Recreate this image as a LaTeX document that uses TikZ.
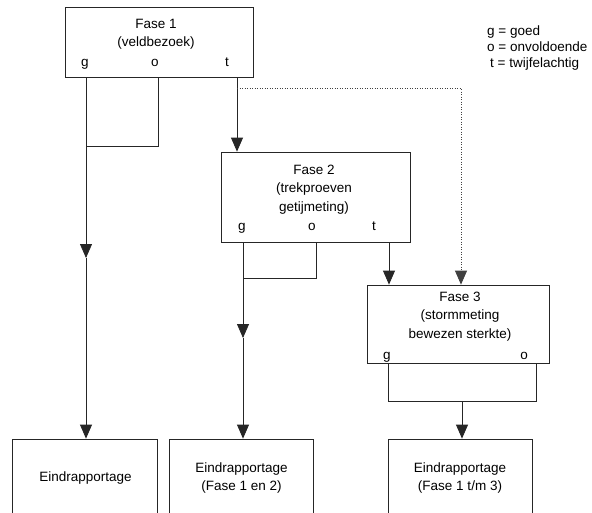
\documentclass[tikz,border=0pt]{standalone}
\usepackage{fontspec}
\setmainfont{Liberation Sans}
\usetikzlibrary{arrows.meta}
\begin{document}
\begin{tikzpicture}[x=1pt,y=-1pt,
  box/.style={draw=black!85, line width=0.8pt, inner sep=0pt},
  txt/.style={anchor=base, align=center, inner sep=0pt, font=\fontsize{13.5}{18.5}\selectfont},
  txtb/.style={txt, font=\fontsize{13.5}{17.5}\selectfont},
  lgd/.style={anchor=base west, inner sep=0pt, font=\fontsize{13.5}{16}\selectfont},
  ln/.style={draw=black!85, line width=0.8pt},
  arr/.style={ln, -{Triangle[width=12pt,length=14pt]}},
  dotln/.style={draw=black!75, line width=0.8pt, dash pattern=on 1pt off 1.5pt, -{Triangle[width=12pt,length=14pt]}}]
\clip (0,0) rectangle (592,512);
\fill[white] (0,0) rectangle (592,512);

% boxes
\node[box, minimum width=188pt, minimum height=70pt] (f1) at (159,42) {};
\node[box, minimum width=189pt, minimum height=90pt] (f2) at (315.5,197) {};
\node[box, minimum width=182pt, minimum height=78pt] (f3) at (458,324) {};
\node[box, minimum width=145pt, minimum height=100pt] (ea) at (84.5,489) {};
\node[box, minimum width=144pt, minimum height=100pt] (eb) at (241,489) {};
\node[box, minimum width=144pt, minimum height=100pt] (ec) at (460,489) {};

% texts (base anchor = baseline of last line)
\node[txt] (t1) at (156,46.5) {Fase 1\\(veldbezoek)};
\node[txt] (g1) at (85,66) {g};
\node[txt] (o1) at (155,66) {o};
\node[txt] (q1) at (227,66) {t};

\node[txt] (t2) at (314,211) {Fase 2\\(trekproeven\\getijmeting)};
\node[txt] (g2) at (242,230) {g};
\node[txt] (o2) at (312,230) {o};
\node[txt] (q2) at (374,230) {t};

\node[txt] (t3) at (460,338) {Fase 3\\(stormmeting\\bewezen sterkte)};
\node[txt] (g3) at (387,359) {g};
\node[txt] (o3) at (524,359) {o};

\node[txt] (ta) at (85.5,481) {Eindrapportage};
\node[txtb] (tb) at (241.5,490) {Eindrapportage\\(Fase 1 en 2)};
\node[txtb] (tc) at (460,490) {Eindrapportage\\(Fase 1 t/m 3)};

\node[lgd] (l1) at (487,35) {g = goed};
\node[lgd] (l2) at (487,51) {o = onvoldoende};
\node[lgd] (l3) at (490,67) {t = twijfelachtig};

% connector points
\coordinate (m1) at (86,258);
\coordinate (j1) at (86,146);
\coordinate (k1) at (158,146);
\coordinate (d0) at (237,88);
\coordinate (d1) at (461,88);
\coordinate (m2) at (243,338);
\coordinate (j2) at (243,278);
\coordinate (k2) at (316,278);
\coordinate (p2) at (389,250);
\coordinate (j3) at (388,401);
\coordinate (k3) at (536,401);
\coordinate (c3) at (462,401);

% fase 1
\draw[arr] (f1.south -| m1) -- (m1);
\draw[arr] (m1) -- (ea.north -| m1);
\draw[ln] (f1.south -| k1) -- (k1) -- (j1);
\draw[arr] (f1.south -| d0) -- (f2.north -| d0);
\draw[dotln] (d0) -- (d1) -- (f3.north -| d1);

% fase 2
\draw[arr] (f2.south -| m2) -- (m2);
\draw[arr] (m2) -- (eb.north -| m2);
\draw[ln] (f2.south -| k2) -- (k2) -- (j2);
\draw[arr] (f2.south -| p2) -- (f3.north -| p2);

% fase 3
\draw[ln] (f3.south -| j3) -- (j3) -- (k3) -- (f3.south -| k3);
\draw[arr] (c3) -- (ec.north -| c3);
\end{tikzpicture}
\end{document}
